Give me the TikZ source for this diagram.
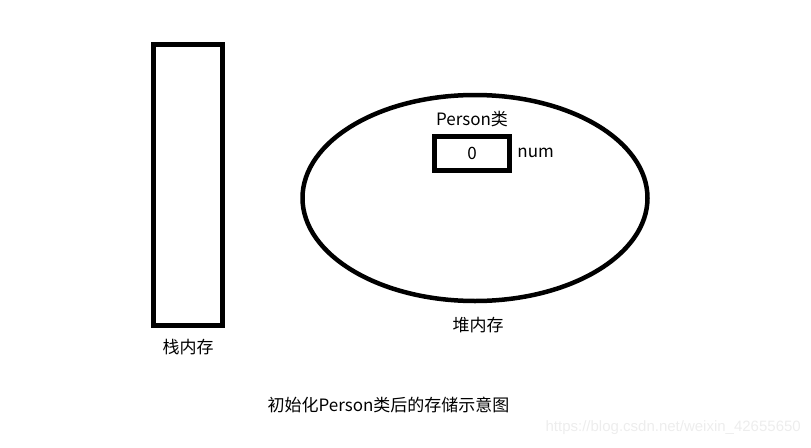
\documentclass[tikz,border=0pt]{standalone}
\usepackage{fontspec}
\setmainfont{Noto Sans CJK SC}
\usetikzlibrary{shapes,positioning}

\begin{document}
\begin{tikzpicture}[
    x=1pt, y=-1pt,
    every node/.style={
        inner sep=0pt,
        font=\fontsize{17}{20}\selectfont
    },
    membox/.style={
        draw, line width=5pt,
        rectangle
    },
    heapshape/.style={
        draw, line width=4.5pt,
        ellipse
    },
    watermark/.style={
        text=black!7,
        font=\fontsize{15}{18}\selectfont\fontspec{Liberation Sans}
    }
]
\useasboundingbox (0,0) rectangle (811,447);
% stack
\node[membox, minimum width=69.5pt, minimum height=280.5pt] (stack) at (188,185) {};
\node (stacklabel) at (188,347) {栈内存};
% heap
\node[heapshape, minimum width=345pt, minimum height=206pt] (heap) at (475,198) {};
\node (heaplabel) at (478,325) {堆内存};
% object
\node[membox, minimum width=75.5pt, minimum height=34pt] (num) at (472,153) {0};
\node[above=6pt of num] (person) {Person类};
\node[right=5pt of num] (numlabel) {num};
% caption
\node (caption) at (388.5,405) {初始化Person类后的存储示意图};
\node[watermark, anchor=east] (mark) at (801,428) {https://blog.csdn.net/weixin\_42655650};
\end{tikzpicture}
\end{document}
